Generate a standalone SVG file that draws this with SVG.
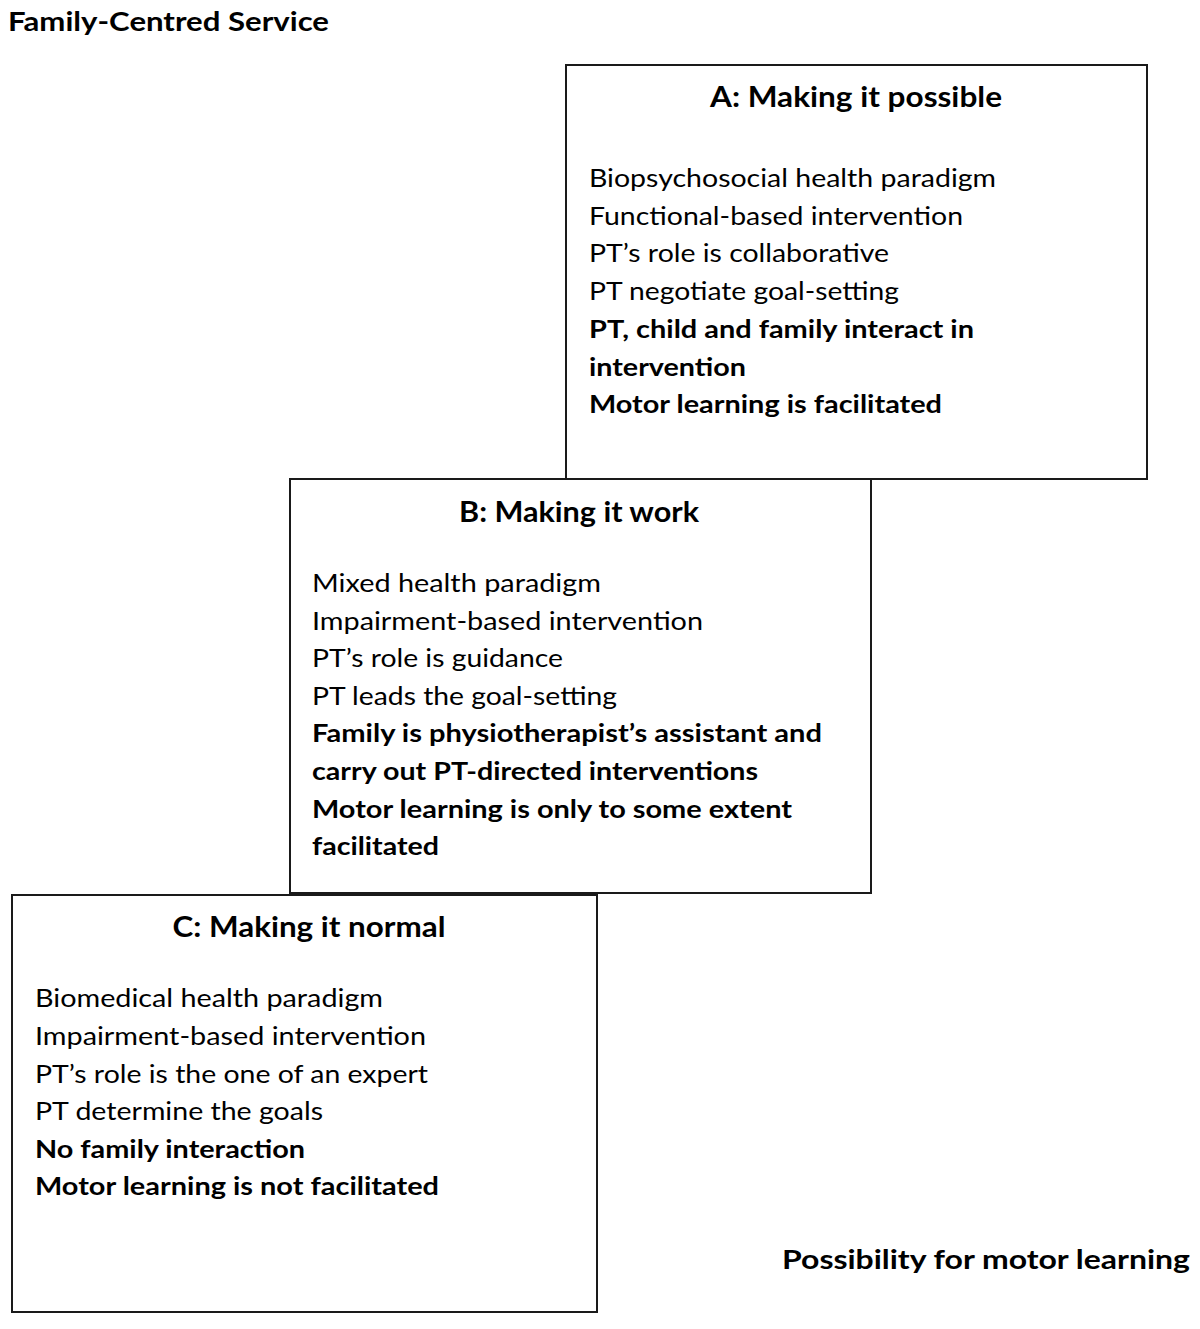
<svg xmlns="http://www.w3.org/2000/svg" width="1200" height="1329" viewBox="0 0 1200 1329">
<style>
.box{fill:#fff;stroke:#1a1a1a;stroke-width:2}
text{font-family:Lato,"Open Sans","Liberation Sans",sans-serif;fill:#000}
.t{font-size:29px;font-weight:bold;text-anchor:middle}
.r{font-size:25px}
.b{font-size:25px;font-weight:bold}
.h{font-size:27px;font-weight:bold}
</style>
<rect width="1200" height="1329" fill="#fff"/>
<g id="label-fcs"><text class="h" x="8" y="31" textLength="321" lengthAdjust="spacingAndGlyphs">Family-Centred Service</text></g>
<g id="node-a">
<rect class="box" x="566" y="65" width="581" height="414"/>
<text class="t" x="856" y="107" textLength="292" lengthAdjust="spacingAndGlyphs">A: Making it possible</text>
<text class="r" x="589" y="187" textLength="407" lengthAdjust="spacingAndGlyphs">Biopsychosocial health paradigm</text>
<text class="r" x="589" y="225" textLength="374" lengthAdjust="spacingAndGlyphs">Functional-based intervention</text>
<text class="r" x="589" y="262" textLength="300" lengthAdjust="spacingAndGlyphs">PT’s role is collaborative</text>
<text class="r" x="589" y="300" textLength="310" lengthAdjust="spacingAndGlyphs">PT negotiate goal-setting</text>
<text class="b" x="589" y="338" textLength="385" lengthAdjust="spacingAndGlyphs">PT, child and family interact in</text>
<text class="b" x="589" y="376" textLength="157" lengthAdjust="spacingAndGlyphs">intervention</text>
<text class="b" x="589" y="413" textLength="353" lengthAdjust="spacingAndGlyphs">Motor learning is facilitated</text>
</g>
<g id="node-b">
<rect class="box" x="290" y="479" width="581" height="414"/>
<text class="t" x="579" y="522" textLength="240" lengthAdjust="spacingAndGlyphs">B: Making it work</text>
<text class="r" x="312" y="592" textLength="289" lengthAdjust="spacingAndGlyphs">Mixed health paradigm</text>
<text class="r" x="312" y="630" textLength="391" lengthAdjust="spacingAndGlyphs">Impairment-based intervention</text>
<text class="r" x="312" y="667" textLength="251" lengthAdjust="spacingAndGlyphs">PT’s role is guidance</text>
<text class="r" x="312" y="705" textLength="305" lengthAdjust="spacingAndGlyphs">PT leads the goal-setting</text>
<text class="b" x="312" y="742" textLength="510" lengthAdjust="spacingAndGlyphs">Family is physiotherapist’s assistant and</text>
<text class="b" x="312" y="780" textLength="446" lengthAdjust="spacingAndGlyphs">carry out PT-directed interventions</text>
<text class="b" x="312" y="818" textLength="480" lengthAdjust="spacingAndGlyphs">Motor learning is only to some extent</text>
<text class="b" x="312" y="855" textLength="127" lengthAdjust="spacingAndGlyphs">facilitated</text>
</g>
<g id="node-c">
<rect class="box" x="12" y="895" width="585" height="417"/>
<text class="t" x="309" y="937" textLength="273" lengthAdjust="spacingAndGlyphs">C: Making it normal</text>
<text class="r" x="35" y="1007" textLength="348" lengthAdjust="spacingAndGlyphs">Biomedical health paradigm</text>
<text class="r" x="35" y="1045" textLength="391" lengthAdjust="spacingAndGlyphs">Impairment-based intervention</text>
<text class="r" x="35" y="1083" textLength="393" lengthAdjust="spacingAndGlyphs">PT’s role is the one of an expert</text>
<text class="r" x="35" y="1120" textLength="288" lengthAdjust="spacingAndGlyphs">PT determine the goals</text>
<text class="b" x="35" y="1158" textLength="270" lengthAdjust="spacingAndGlyphs">No family interaction</text>
<text class="b" x="35" y="1195" textLength="404" lengthAdjust="spacingAndGlyphs">Motor learning is not facilitated</text>
</g>
<g id="label-pml"><text class="h" x="782" y="1269" textLength="408" lengthAdjust="spacingAndGlyphs">Possibility for motor learning</text></g>
</svg>
